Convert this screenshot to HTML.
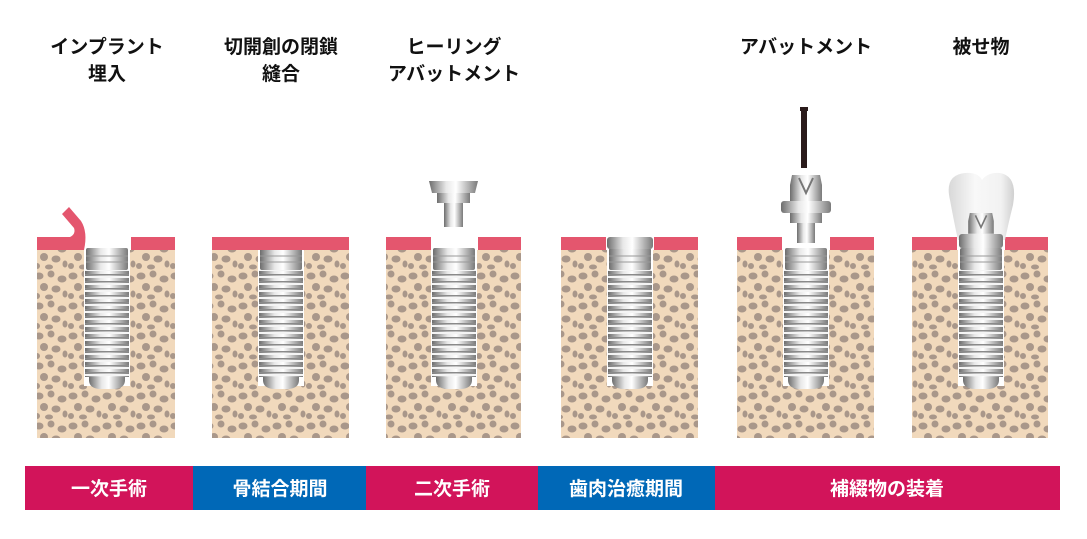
<!DOCTYPE html>
<html><head><meta charset="utf-8"><style>
body{margin:0;background:#fff;width:1087px;height:539px;overflow:hidden}
svg{display:block}
text{font-family:"Liberation Sans","Noto Sans CJK JP",sans-serif;font-weight:bold}
</style></head><body>
<svg width="1087" height="539" viewBox="0 0 1087 539" xmlns="http://www.w3.org/2000/svg">
<defs>
<pattern id="bone" width="34" height="30" patternUnits="userSpaceOnUse">
<rect width="34" height="30" fill="#f1d9bc"/>
<ellipse cx="5" cy="6" rx="4.5" ry="3.5" fill="#a9978a"/>
<ellipse cx="17" cy="4" rx="3.5" ry="3.5" fill="#a9978a"/>
<ellipse cx="28" cy="9" rx="4.5" ry="3.5" fill="#a9978a"/>
<ellipse cx="10" cy="17" rx="4" ry="4" fill="#a9978a"/>
<ellipse cx="22" cy="19" rx="4.5" ry="3.5" fill="#a9978a"/>
<ellipse cx="31" cy="24" rx="2.5" ry="3.5" fill="#a9978a"/>
<ellipse cx="3" cy="26" rx="3" ry="3" fill="#a9978a"/>
<ellipse cx="15" cy="27" rx="4" ry="2.5" fill="#a9978a"/>
</pattern>
<linearGradient id="metal" x1="0" x2="1" y1="0" y2="0">
<stop offset="0" stop-color="#6d6d6d"/><stop offset="0.35" stop-color="#e8e8e8"/>
<stop offset="0.55" stop-color="#ffffff"/><stop offset="1" stop-color="#7a7a7a"/>
</linearGradient>
<linearGradient id="crown" x1="0" x2="1" y1="0" y2="0">
<stop offset="0" stop-color="#d8d8d8"/><stop offset="0.4" stop-color="#f8f8f8"/>
<stop offset="0.8" stop-color="#f2f2f2"/><stop offset="1" stop-color="#d0d0d0"/>
</linearGradient>
<pattern id="thr" width="44" height="7" patternUnits="userSpaceOnUse" x="-22" y="0">
<rect width="44" height="7" fill="url(#metal)"/>
<rect y="0" width="44" height="2" fill="#f4f4f4"/>
<rect y="5" width="44" height="1.5" fill="#8a8a8a"/>
</pattern>
<g id="imp">
<rect x="-21" y="0" width="42" height="22" rx="2" fill="url(#metal)"/>
<line x1="-21" y1="8" x2="21" y2="8" stroke="#999" stroke-width="1"/>
<line x1="-21" y1="14" x2="21" y2="14" stroke="#999" stroke-width="1"/>
<rect x="-22" y="22" width="44" height="107" fill="url(#thr)"/>
<path d="M-18 129 H18 V132 Q18 140 8 141 H-8 Q-18 140 -18 132 Z" fill="url(#metal)"/>
</g>
<g id="abut">
<path d="M-14 0 H14 L16 10 V26 H-16 V10 Z" fill="url(#metal)"/>
<path d="M-7 3 L0 18 L7 3" fill="none" stroke="#777" stroke-width="2"/>
<rect x="-25" y="26" width="50" height="12" rx="3" fill="url(#metal)"/>
<rect x="-16" y="38" width="32" height="10" fill="url(#metal)"/>
</g>
</defs>

<g font-size="19" fill="#111" text-anchor="middle">
<text x="107" y="53">インプラント</text><text x="107" y="80">埋入</text>
<text x="281" y="53">切開創の閉鎖</text><text x="281" y="80">縫合</text>
<text x="454" y="53">ヒーリング</text><text x="454" y="80">アバットメント</text>
<text x="806" y="53">アバットメント</text>
<text x="981" y="53">被せ物</text>
</g>

<rect x="37" y="250" width="138" height="188" fill="url(#bone)"/>
<rect x="212" y="250" width="137" height="188" fill="url(#bone)"/>
<rect x="386" y="250" width="135" height="188" fill="url(#bone)"/>
<rect x="561" y="250" width="137" height="188" fill="url(#bone)"/>
<rect x="737" y="250" width="137" height="188" fill="url(#bone)"/>
<rect x="912" y="250" width="136" height="188" fill="url(#bone)"/>

<rect x="84" y="248" width="46" height="138" fill="#fff"/>
<rect x="258" y="248" width="46" height="138" fill="#fff"/>
<rect x="431" y="248" width="46" height="138" fill="#fff"/>
<rect x="607" y="248" width="46" height="138" fill="#fff"/>
<rect x="783" y="248" width="46" height="138" fill="#fff"/>
<rect x="958" y="248" width="46" height="138" fill="#fff"/>

<use href="#imp" x="107" y="248"/>
<use href="#imp" x="281" y="248"/>
<use href="#imp" x="454" y="248"/>
<use href="#imp" x="630" y="248"/>
<use href="#imp" x="806" y="248"/>
<use href="#imp" x="981" y="248"/>

<g fill="#e4566e">
<path d="M37 237 H70 Q76 234 74 228 L62 214 L69 207 L81 221 Q88 232 84 250 H37 Z"/>
<rect x="131" y="237" width="44" height="13"/>
<rect x="212" y="237" width="137" height="13"/>
<rect x="386" y="237" width="45" height="13"/>
<rect x="478" y="237" width="43" height="13"/>
<rect x="561" y="237" width="45" height="13"/>
<rect x="654" y="237" width="44" height="13"/>
<rect x="737" y="237" width="45" height="13"/>
<rect x="830" y="237" width="44" height="13"/>
<rect x="912" y="237" width="45" height="13"/>
<rect x="1005" y="237" width="43" height="13"/>
</g>
<rect x="607" y="237" width="46" height="12" rx="3" fill="url(#metal)"/>

<path d="M429 181 H478 L475 193 H432 Z" fill="url(#metal)"/>
<rect x="437" y="193" width="33" height="10" fill="url(#metal)"/>
<rect x="444" y="203" width="19" height="24" fill="url(#metal)"/>

<rect x="800" y="107" width="8" height="4" fill="#2a1b1b"/>
<rect x="801" y="110" width="6" height="58" fill="#2a1b1b"/>
<use href="#abut" x="806" y="175"/>
<rect x="797" y="223" width="18" height="20" fill="url(#metal)"/>

<path d="M950 200 Q944 175 965 173 Q978 172 982 180 Q988 172 1000 173 Q1018 176 1013 205 Q1008 225 1005 240 H958 Q954 222 950 200 Z" fill="url(#crown)"/>
<g transform="translate(981,213) scale(0.8)">
<path d="M-14 0 H14 L16 10 V26 H-16 V10 Z" fill="url(#metal)"/>
<path d="M-7 3 L0 18 L7 3" fill="none" stroke="#777" stroke-width="2"/>
</g>
<rect x="959" y="234" width="44" height="14" rx="3" fill="url(#metal)"/>

<rect x="25" y="466" width="168" height="44" fill="#d2145a"/>
<rect x="193" y="466" width="173" height="44" fill="#0068b7"/>
<rect x="366" y="466" width="172" height="44" fill="#d2145a"/>
<rect x="538" y="466" width="177" height="44" fill="#0068b7"/>
<rect x="715" y="466" width="345" height="44" fill="#d2145a"/>
<g font-size="19" fill="#fff" text-anchor="middle">
<text x="109" y="495">一次手術</text>
<text x="280" y="495">骨結合期間</text>
<text x="452" y="495">二次手術</text>
<text x="626" y="495">歯肉治癒期間</text>
<text x="887" y="495">補綴物の装着</text>
</g>
</svg>
</body></html>
